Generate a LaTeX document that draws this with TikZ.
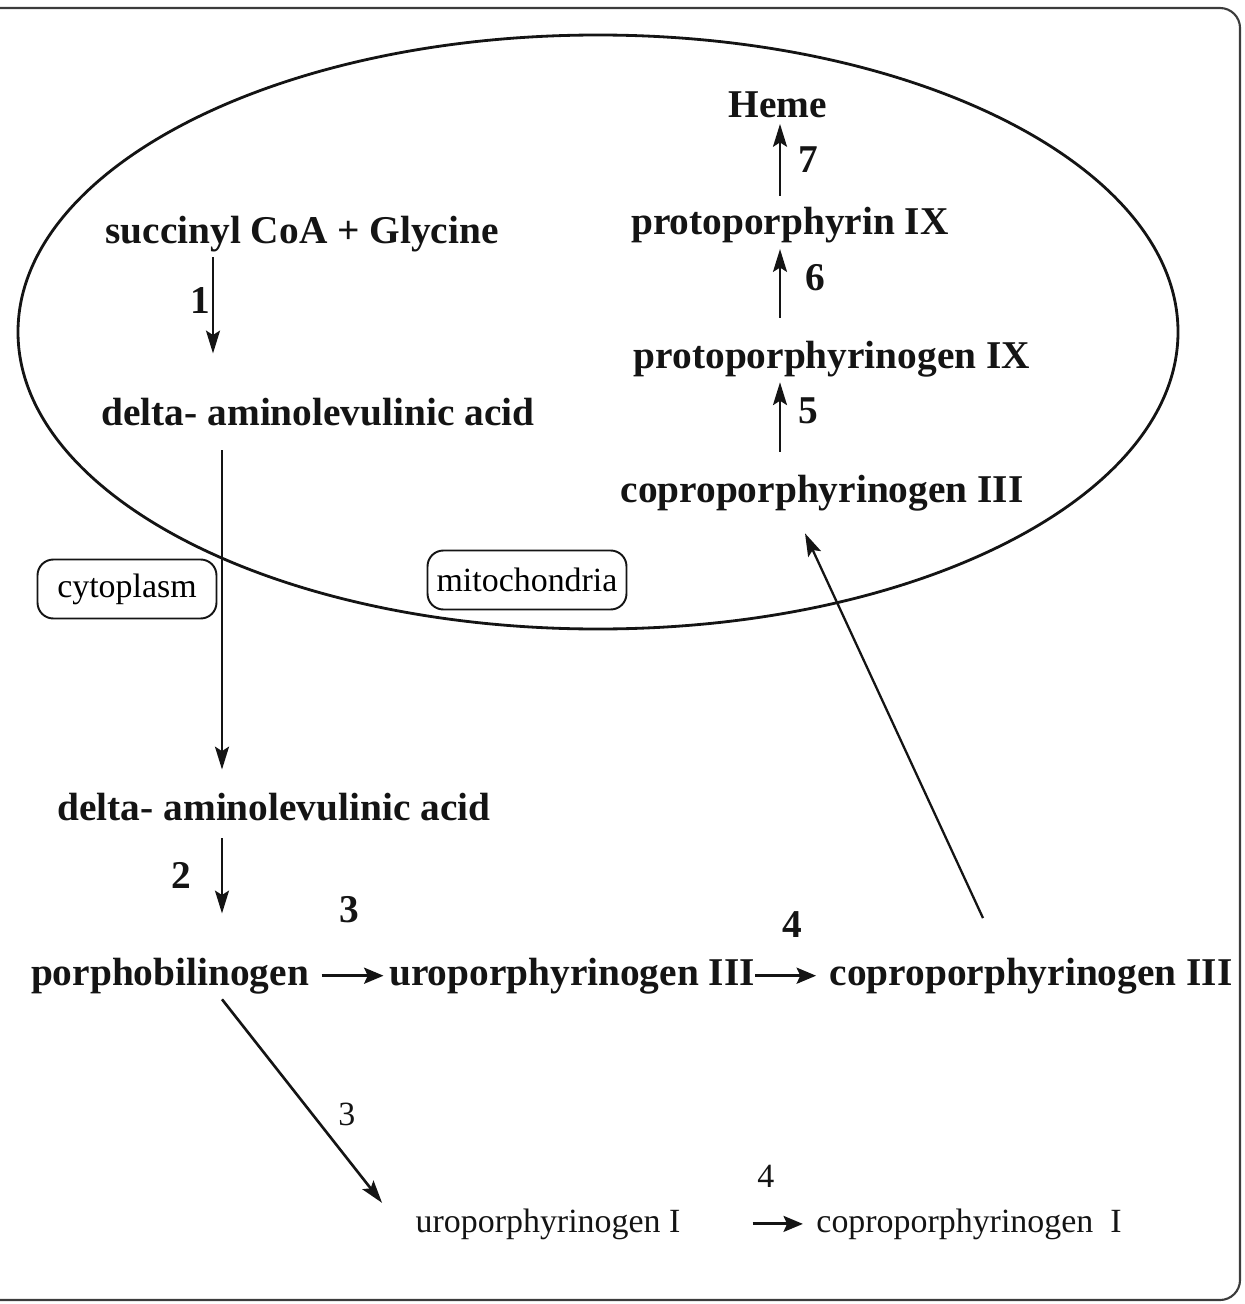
\documentclass[tikz,border=0pt]{standalone}
\usepackage{fontspec}
\setmainfont{Liberation Serif}
\usepackage{tikz}
\usetikzlibrary{arrows.meta, calc, positioning}
\definecolor{mydark}{RGB}{20,20,20}
\definecolor{myframe}{RGB}{60,60,60}
\tikzset{
  chem/.style={anchor=base, inner sep=3pt, text=mydark,
    font=\bfseries\fontsize{22.4}{26}\selectfont},
  minorchem/.style={anchor=base, inner sep=3pt, text=mydark,
    font=\fontsize{19.3}{23}\selectfont},
  stepnum/.style={inner sep=1pt, text=mydark,
    font=\bfseries\fontsize{22.4}{26}\selectfont},
  minornum/.style={inner sep=1pt, text=mydark,
    font=\fontsize{19.3}{23}\selectfont},
  region/.style={draw=mydark, rounded corners=9pt, line width=1.1pt,
    minimum height=1.18cm, inner sep=2pt, font=\fontsize{19.3}{23}\selectfont},
  arrow/.style={-{Stealth[length=13pt, width=8pt, inset=2.5pt]}, line width=1.1pt, color=mydark},
  fatarrow/.style={-{Stealth[length=11pt, width=9pt, inset=2pt]}, line width=2pt, color=mydark}
}

\begin{document}
\begin{tikzpicture}[x=0.02cm, y=-0.02cm]
  \useasboundingbox (0,0) rectangle (1244,1304);

  % frame and mitochondrion
  \draw[myframe, line width=1.2pt, rounded corners=0.4cm] (0,8) -- (1240,8) -- (1240,1300) -- (0,1300);
  \draw[mydark, line width=1.6pt] (598,332) ellipse [x radius=580, y radius=297];

  % mitochondrial steps
  \node[chem] (succ) at (302,243) {succinyl CoA + Glycine};
  \node[chem] (alamito) at (318,425) {delta- aminolevulinic acid};
  \node[chem] (heme) at (778,118) {Heme};
  \node[chem] (proto) at (790,235) {protoporphyrin IX};
  \node[chem] (protogen) at (832,368) {protoporphyrinogen IX};
  \node[chem] (coprotop) at (822,502) {coproporphyrinogen III};

  % cytoplasmic steps
  \node[chem] (alacyto) at (274,820) {delta- aminolevulinic acid};
  \node[chem] (pbg) at (170,985) {porphobilinogen};
  \node[chem] (urothree) at (572,985) {uroporphyrinogen III};
  \node[chem] (coprothree) at (1031,985) {coproporphyrinogen III};
  \node[minorchem] (uroone) at (548,1232) {uroporphyrinogen I};
  \node[minorchem] (coproone) at (969,1232) {coproporphyrinogen\ \ I};

  % compartment tags
  \node[region, minimum width=3.58cm] (cyto) at (127,589) {cytoplasm};
  \node[region, minimum width=3.98cm] (mito) at (527,580) {mitochondria};

  % arrows inside
  \draw[arrow, shorten >=22pt] (succ.south -| 213,0) -- (alamito.north -| 213,0)
    node[stepnum, left, pos=0.32] {1};
  \draw[arrow, shorten <=10pt] (coprotop.north -| 780,0) -- (protogen.south -| 780,0)
    node[stepnum, right=9pt, pos=0.67] {5};
  \draw[arrow, shorten <=10pt] (protogen.north -| 780,0) -- (proto.south -| 780,0)
    node[stepnum, right=13pt, pos=0.67] {6};
  \draw[arrow, shorten <=3.5pt] (proto.north -| 780,0) -- (heme.south -| 780,0)
    node[stepnum, right=9pt, pos=0.54] {7};

  % transport
  \draw[arrow, shorten <=11pt, shorten >=10pt] (alamito.south -| 222,0) -- (alacyto.north -| 222,0);
  \draw[arrow, line width=1.3pt] ($(coprothree.north)+(-48,-34)$) -- ($(coprotop.south)+(-17,17)$);

  % arrows outside
  \draw[arrow, shorten <=7pt, shorten >=22pt] (alacyto.south -| 222,0) -- (pbg.north -| 222,0)
    node[stepnum, left=16pt, pos=0.39] {2};
  \draw[fatarrow, shorten <=4pt] (pbg.east) -- (urothree.west)
    node[stepnum, above=28pt, midway] {3};
  \draw[fatarrow, shorten <=-3pt, shorten >=4.5pt] (urothree.east) -- (coprothree.west)
    node[stepnum, above=20pt, midway] {4};
  \draw[arrow, line width=1.5pt] (pbg.south -| 222,0) -- ($(uroone.north west)+(-28,0)$)
    node[minornum, right=13pt, pos=0.565] {3};
  \draw[fatarrow, line width=1.8pt, shorten <=38pt, shorten >=4.5pt] (uroone.east) -- (coproone.west)
    node[minornum, above=18.6pt, pos=0.64] {4};
\end{tikzpicture}
\end{document}
